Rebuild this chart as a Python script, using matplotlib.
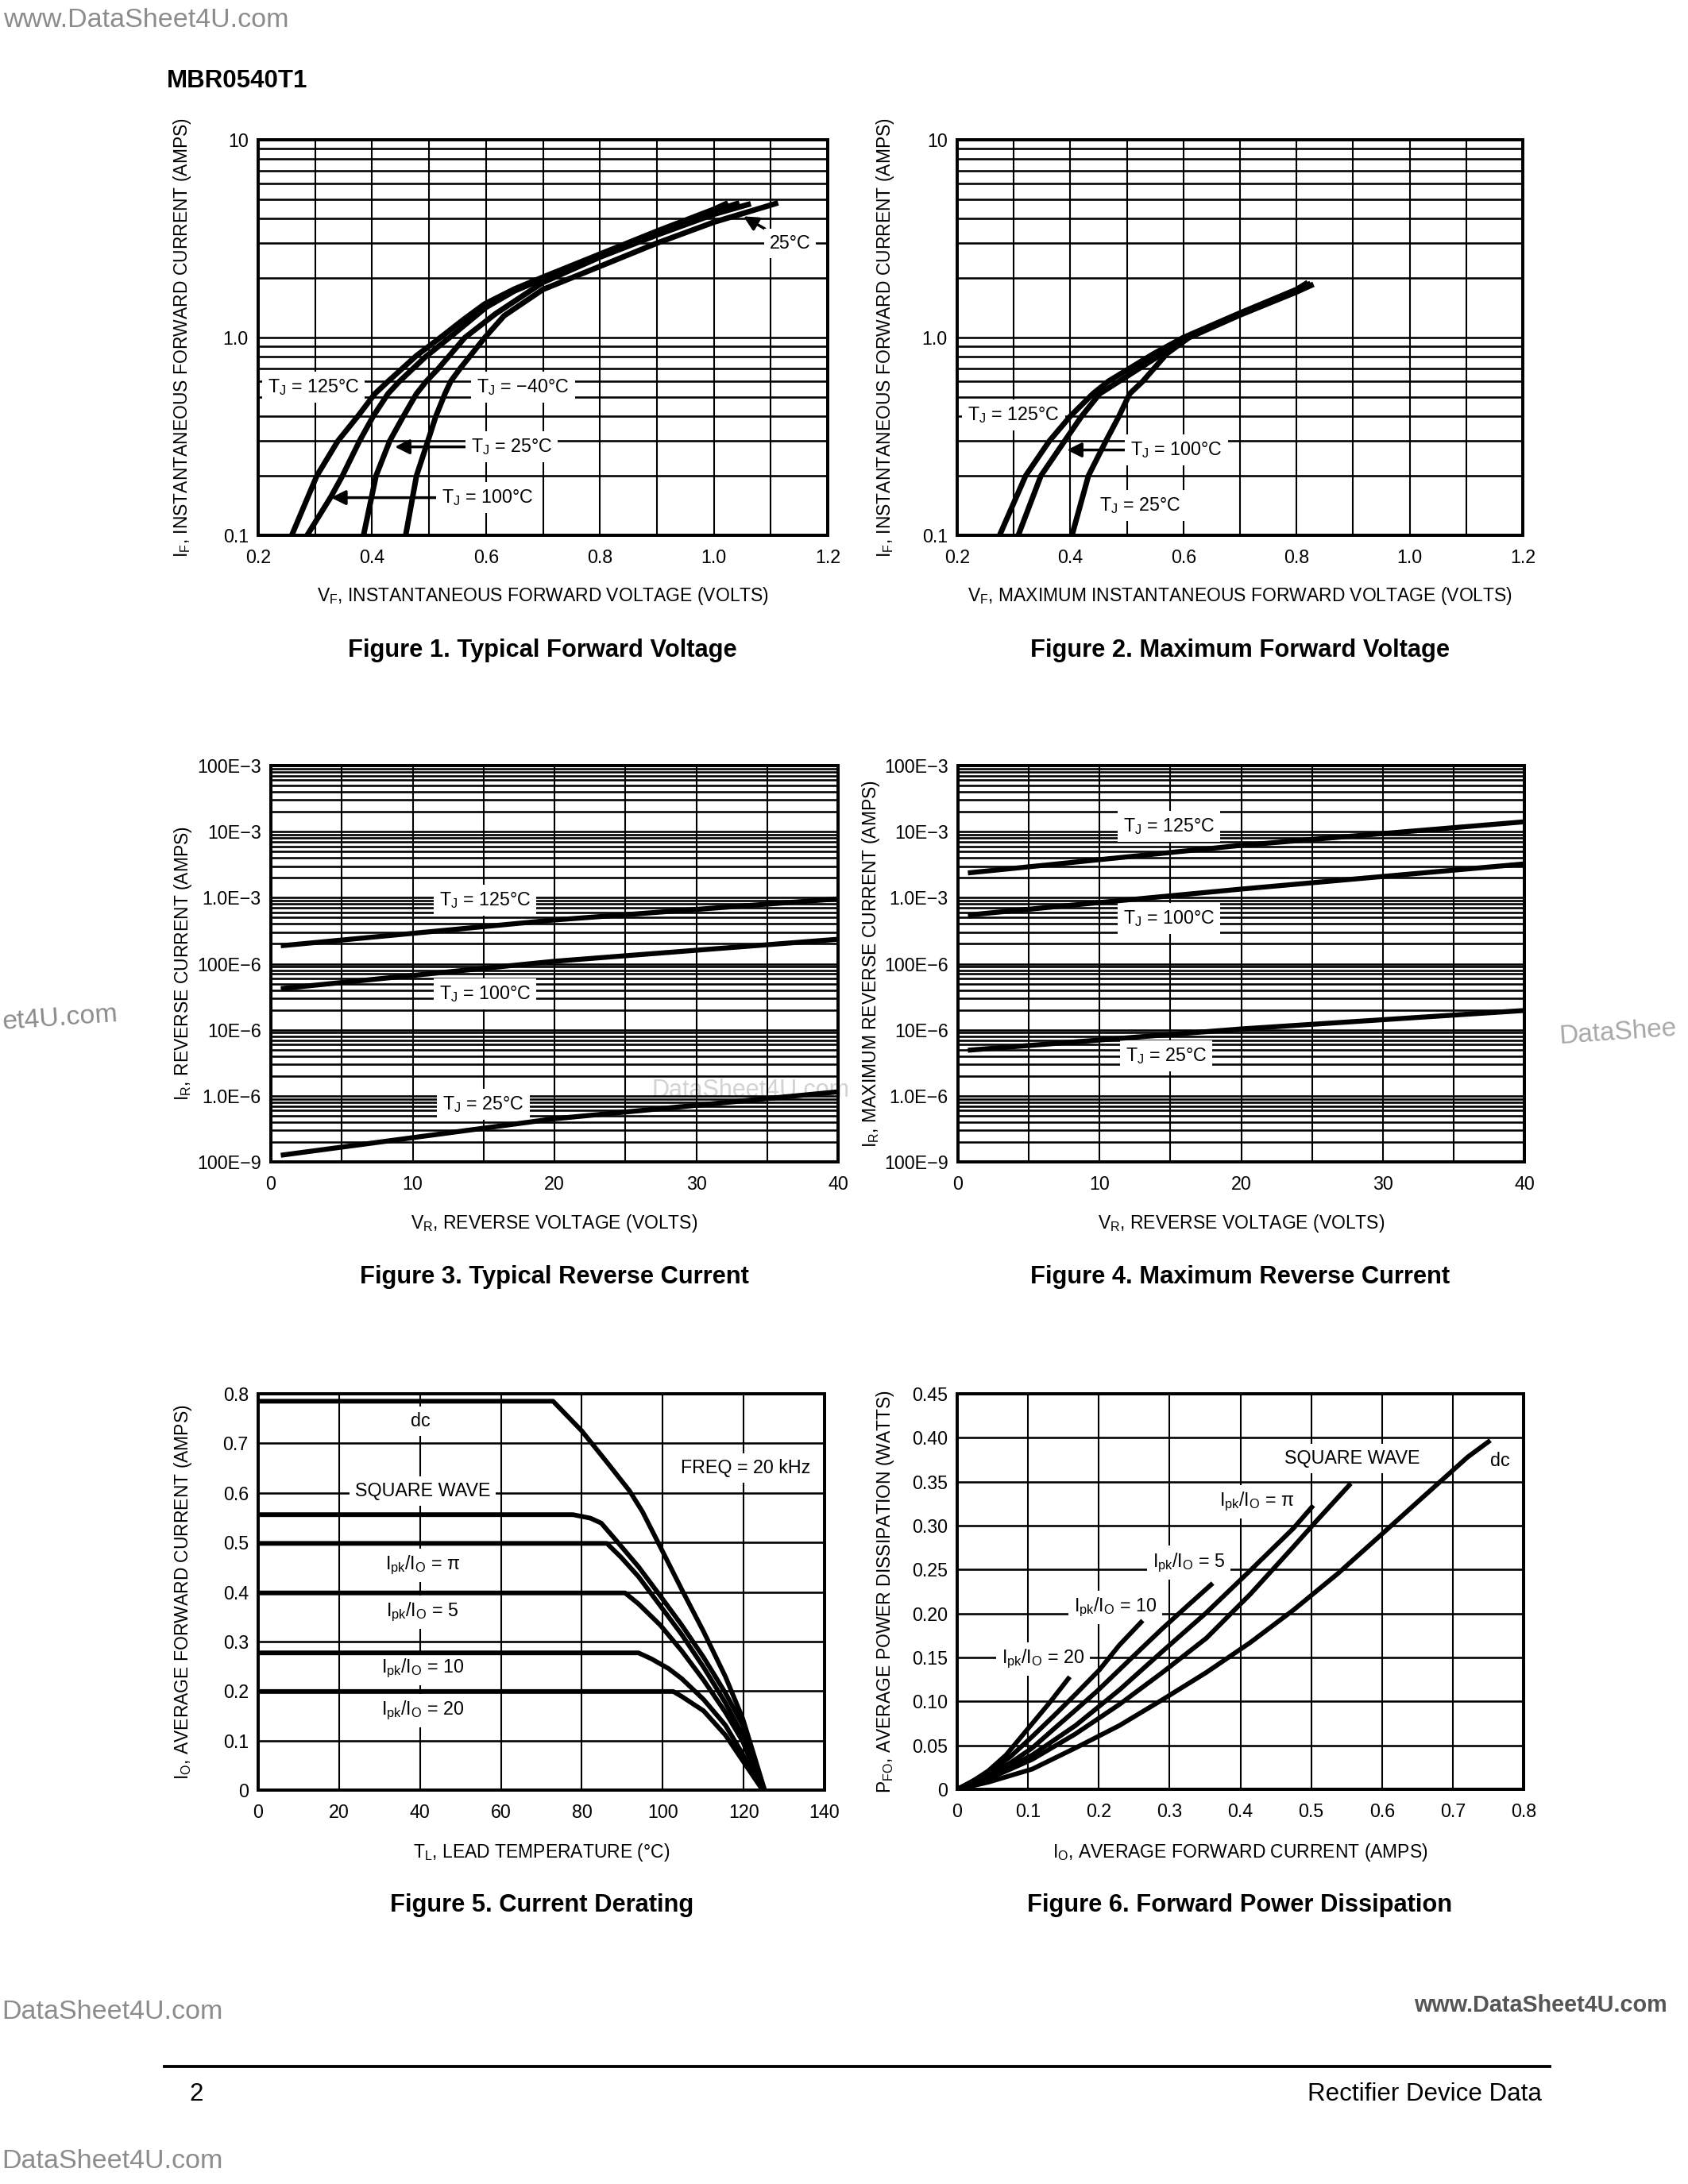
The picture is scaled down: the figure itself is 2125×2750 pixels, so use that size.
import matplotlib
matplotlib.use("Agg")
import matplotlib.pyplot as plt
import numpy as np
from matplotlib.ticker import LogLocator, NullFormatter

W, H, DPI = 2125, 2750, 250

plt.rcParams["font.family"] = ["Liberation Sans", "DejaVu Sans"]
plt.rcParams["mathtext.fontset"] = "custom"
plt.rcParams["mathtext.rm"] = "Liberation Sans"
plt.rcParams["mathtext.it"] = "Liberation Sans"
plt.rcParams["mathtext.bf"] = "Liberation Sans:bold"

# ---------------- Figure 1: typical forward voltage ----------------
f1_v_125 = [0.259, 0.303, 0.34, 0.375, 0.405, 0.428, 0.478, 0.52, 0.56, 0.598, 0.65, 0.70, 0.80, 0.90, 1.0, 1.025]
f1_i_125 = [0.1, 0.2, 0.3, 0.4, 0.52, 0.6, 0.81, 1.0, 1.23, 1.48, 1.76, 2.02, 2.64, 3.45, 4.45, 4.8]
f1_v_100 = [0.286, 0.328, 0.348, 0.378, 0.402, 0.428, 0.448, 0.494, 0.536, 0.60, 0.65, 0.70, 0.80, 0.90, 1.0, 1.045]
f1_i_100 = [0.1, 0.157, 0.2, 0.3, 0.4, 0.52, 0.6, 0.8, 1.0, 1.42, 1.72, 1.98, 2.6, 3.4, 4.35, 4.8]
f1_v_25 = [0.385, 0.407, 0.431, 0.455, 0.478, 0.495, 0.517, 0.563, 0.617, 0.70, 0.80, 0.90, 1.0, 1.065]
f1_i_25 = [0.1, 0.2, 0.3, 0.4, 0.52, 0.6, 0.7, 1.0, 1.32, 1.9, 2.55, 3.3, 4.2, 4.75]
f1_v_m40 = [0.459, 0.478, 0.498, 0.512, 0.528, 0.538, 0.555, 0.598, 0.632, 0.70, 0.80, 0.90, 1.0, 1.113]
f1_i_m40 = [0.1, 0.2, 0.3, 0.4, 0.52, 0.6, 0.7, 1.0, 1.29, 1.75, 2.29, 3.0, 3.83, 4.8]

# ---------------- Figure 2: maximum forward voltage ----------------
f2_v_125 = [0.275, 0.321, 0.363, 0.40, 0.44, 0.467, 0.548, 0.60, 0.70, 0.80, 0.82]
f2_v_100 = [0.308, 0.348, 0.39, 0.42, 0.452, 0.486, 0.563, 0.605, 0.70, 0.80, 0.825]
f2_v_25 = [0.403, 0.432, 0.463, 0.486, 0.505, 0.528, 0.571, 0.61, 0.70, 0.80, 0.83]
f2_i_125 = [0.1, 0.2, 0.3, 0.4, 0.52, 0.6, 0.83, 1.0, 1.33, 1.75, 1.9]
f2_i_100 = [0.1, 0.2, 0.3, 0.4, 0.52, 0.6, 0.83, 1.0, 1.31, 1.72, 1.88]
f2_i_25 = [0.1, 0.2, 0.3, 0.4, 0.52, 0.6, 0.83, 1.0, 1.30, 1.70, 1.86]

# ---------------- Figure 3 / 4: reverse current ----------------
vr_pts = [0.7, 20, 40]
f3_ir_125 = [1.87e-4, 4.6e-4, 9.6e-4]
f3_ir_100 = [4.2e-5, 1.09e-4, 2.35e-4]
f3_ir_25 = [1.26e-7, 4.5e-7, 1.15e-6]
f4_ir_125 = [2.37e-3, 6.2e-3, 1.41e-2]
f4_ir_100 = [5.46e-4, 1.35e-3, 3.25e-3]
f4_ir_25 = [4.9e-6, 1.03e-5, 1.96e-5]
ir_ticks = [1e-7, 1e-6, 1e-5, 1e-4, 1e-3, 1e-2, 1e-1]
ir_ticklabels = ["100E\u22129", "1.0E\u22126", "10E\u22126", "100E\u22126", "1.0E\u22123", "10E\u22123", "100E\u22123"]

# ---------------- Figure 5: current derating ----------------
f5_t_dc = [0, 72.9, 80, 86.4, 91.8, 95, 99.9, 104.7, 110.1, 115.5, 119.8, 125.2]
f5_i_dc = [0.785, 0.785, 0.725, 0.66, 0.604, 0.562, 0.483, 0.405, 0.32, 0.229, 0.144, 0]
f5_t_sq = [0, 77.8, 82.1, 84.8, 88.6, 94, 99.4, 104.7, 110.1, 115.5, 119.8, 124.7]
f5_i_sq = [0.556, 0.556, 0.549, 0.539, 0.503, 0.451, 0.392, 0.333, 0.268, 0.196, 0.131, 0]
f5_t_pi = [0, 86.2, 89.7, 94, 99.4, 104.7, 110.1, 115.5, 119.8, 124.7]
f5_i_pi = [0.498, 0.498, 0.47, 0.431, 0.372, 0.314, 0.248, 0.176, 0.111, 0]
f5_t_5 = [0, 90.7, 94, 99.4, 104.7, 110.1, 115.5, 119.8, 124.7]
f5_i_5 = [0.398, 0.398, 0.376, 0.333, 0.281, 0.222, 0.157, 0.098, 0]
f5_t_10 = [0, 94, 97.2, 101.5, 104.7, 110.1, 115.5, 119.8, 124.7]
f5_i_10 = [0.277, 0.277, 0.265, 0.245, 0.225, 0.183, 0.131, 0.072, 0]
f5_t_20 = [0, 102.6, 104.7, 110.1, 115.5, 119.8, 124.7]
f5_i_20 = [0.199, 0.199, 0.189, 0.16, 0.111, 0.059, 0]

# ---------------- Figure 6: forward power dissipation ----------------
f6_i_20 = [0, 0.0197, 0.044, 0.069, 0.10, 0.13, 0.159]
f6_p_20 = [0, 0.0081, 0.021, 0.039, 0.069, 0.098, 0.128]
f6_i_10 = [0, 0.044, 0.075, 0.106, 0.137, 0.167, 0.201, 0.229, 0.262]
f6_p_10 = [0, 0.019, 0.037, 0.060, 0.084, 0.108, 0.136, 0.164, 0.192]
f6_i_5 = [0, 0.044, 0.075, 0.106, 0.137, 0.167, 0.198, 0.229, 0.26, 0.29, 0.327, 0.361]
f6_p_5 = [0, 0.0166, 0.030, 0.047, 0.069, 0.090, 0.112, 0.136, 0.160, 0.183, 0.210, 0.2345]
f6_i_pi = [0, 0.044, 0.106, 0.167, 0.229, 0.29, 0.352, 0.414, 0.475, 0.503]
f6_p_pi = [0, 0.0136, 0.039, 0.0725, 0.113, 0.157, 0.201, 0.249, 0.297, 0.323]
f6_i_sq = [0, 0.044, 0.106, 0.167, 0.229, 0.29, 0.352, 0.414, 0.475, 0.506, 0.556]
f6_p_sq = [0, 0.0118, 0.034, 0.063, 0.0965, 0.133, 0.172, 0.222, 0.276, 0.304, 0.348]
f6_i_dc = [0, 0.044, 0.106, 0.167, 0.229, 0.29, 0.352, 0.414, 0.475, 0.537, 0.598, 0.66, 0.721, 0.753]
f6_p_dc = [0, 0.0081, 0.023, 0.047, 0.0725, 0.102, 0.133, 0.167, 0.204, 0.245, 0.289, 0.334, 0.378, 0.397]

TICK = 6.7
LAB = 6.6
BOX = dict(boxstyle="square,pad=0.3", facecolor="white", edgecolor="none")


def fx(x):
    return x / W


def fy(y):
    return 1 - y / H


def make_axes(fig, left, top, right, bottom):
    ax = fig.add_axes([left / W, 1 - bottom / H, (right - left) / W, (bottom - top) / H])
    ax.set_facecolor("none")
    for s in ax.spines.values():
        s.set_linewidth(1.15)
        s.set_zorder(6)
    ax.tick_params(which="both", length=0, labelsize=TICK)
    ax.tick_params(axis="x", pad=5)
    ax.tick_params(axis="y", pad=3.5)
    ax.set_axisbelow(True)
    ax.xaxis.grid(True, which="both", color="black", linewidth=0.6)
    ax.yaxis.grid(True, which="both", color="black", linewidth=0.75)
    return ax


def labels(fig, ax, xlab, ylab, xlab_y, ylab_x):
    pos = ax.get_position()
    fig.text(pos.x0 + pos.width / 2, fy(xlab_y), xlab, ha="center", va="center", fontsize=LAB)
    fig.text(fx(ylab_x), pos.y0 + pos.height / 2, ylab, ha="center", va="center",
             rotation=90, fontsize=LAB)


def tag(ax, text, xy, tip=None):
    if tip is None:
        ax.text(xy[0], xy[1], text, ha="center", va="center", fontsize=TICK, bbox=BOX, zorder=3)
    else:
        ax.annotate(text, xy=tip, xytext=xy, ha="center", va="center", fontsize=TICK,
                    bbox=BOX, zorder=3,
                    arrowprops=dict(arrowstyle="-|>", color="black", lw=1.0,
                                    mutation_scale=11, shrinkA=0, shrinkB=0))


def forward_axes(ax):
    ax.set_xlim(0.2, 1.2)
    ax.set_yscale("log")
    ax.set_ylim(0.1, 10)
    ax.set_xticks([0.2, 0.4, 0.6, 0.8, 1.0, 1.2], ["0.2", "0.4", "0.6", "0.8", "1.0", "1.2"])
    ax.set_xticks(np.arange(0.3, 1.2, 0.2), minor=True)
    ax.set_yticks([0.1, 1, 10], ["0.1", "1.0", "10"])
    ax.yaxis.set_minor_locator(LogLocator(base=10, subs=np.arange(2, 10), numticks=50))
    ax.yaxis.set_minor_formatter(NullFormatter())


def reverse_axes(ax):
    ax.set_xlim(0, 40)
    ax.set_yscale("log")
    ax.set_ylim(1e-7, 1e-1)
    ax.set_xticks([0, 10, 20, 30, 40], ["0", "10", "20", "30", "40"])
    ax.set_xticks([5, 15, 25, 35], minor=True)
    ax.set_yticks(ir_ticks, ir_ticklabels)
    ax.yaxis.set_minor_locator(LogLocator(base=10, subs=np.arange(2, 10), numticks=50))
    ax.yaxis.set_minor_formatter(NullFormatter())


TJ = r"$\mathrm{T_J}$ = "
IPK = r"$\mathrm{I_{pk}/I_O}$ = "

fig = plt.figure(figsize=(W / DPI, H / DPI), dpi=DPI)

# ---- Figure 1
ax1 = make_axes(fig, 325, 176, 1042, 674)
forward_axes(ax1)
CL = dict(color="black", lw=2.0, zorder=4, solid_capstyle="butt")
ax1.plot(f1_v_125, f1_i_125, **CL)
ax1.plot(f1_v_100, f1_i_100, **CL)
ax1.plot(f1_v_25, f1_i_25, **CL)
ax1.plot(f1_v_m40, f1_i_m40, **CL)
tag(ax1, TJ + "125°C", (0.297, 0.56))
tag(ax1, TJ + "\u221240°C", (0.665, 0.56))
tag(ax1, TJ + "25°C", (0.645, 0.28), tip=(0.44, 0.28))
tag(ax1, TJ + "100°C", (0.603, 0.155), tip=(0.328, 0.155))
tag(ax1, "25°C", (1.134, 2.99), tip=(1.052, 4.1))
labels(fig, ax1, r"$\mathrm{V_F}$, INSTANTANEOUS FORWARD VOLTAGE (VOLTS)",
       r"$\mathrm{I_F}$, INSTANTANEOUS FORWARD CURRENT (AMPS)", 750, 230)

# ---- Figure 2
ax2 = make_axes(fig, 1205, 176, 1917, 674)
forward_axes(ax2)
ax2.plot(f2_v_125, f2_i_125, **CL)
ax2.plot(f2_v_100, f2_i_100, **CL)
ax2.plot(f2_v_25, f2_i_25, **CL)
tag(ax2, TJ + "125°C", (0.30, 0.406))
tag(ax2, TJ + "100°C", (0.588, 0.27), tip=(0.394, 0.27))
tag(ax2, TJ + "25°C", (0.523, 0.141))
labels(fig, ax2, r"$\mathrm{V_F}$, MAXIMUM INSTANTANEOUS FORWARD VOLTAGE (VOLTS)",
       r"$\mathrm{I_F}$, INSTANTANEOUS FORWARD CURRENT (AMPS)", 750, 1115)

# ---- Figure 3
RL = dict(color="black", lw=1.8, zorder=4, solid_capstyle="butt")
ax3 = make_axes(fig, 341, 964, 1055, 1463)
reverse_axes(ax3)
ax3.plot(vr_pts, f3_ir_125, **RL)
ax3.plot(vr_pts, f3_ir_100, **RL)
ax3.plot(vr_pts, f3_ir_25, **RL)
tag(ax3, TJ + "125°C", (15.1, 9.1e-4))
tag(ax3, TJ + "100°C", (15.1, 3.46e-5))
tag(ax3, TJ + "25°C", (15.0, 7.5e-7))
labels(fig, ax3, r"$\mathrm{V_R}$, REVERSE VOLTAGE (VOLTS)",
       r"$\mathrm{I_R}$, REVERSE CURRENT (AMPS)", 1540, 230)

# ---- Figure 4
ax4 = make_axes(fig, 1206, 964, 1919, 1463)
reverse_axes(ax4)
ax4.plot(vr_pts, f4_ir_125, **RL)
ax4.plot(vr_pts, f4_ir_100, **RL)
ax4.plot(vr_pts, f4_ir_25, **RL)
tag(ax4, TJ + "125°C", (14.9, 1.21e-2))
tag(ax4, TJ + "100°C", (14.9, 4.9e-4))
tag(ax4, TJ + "25°C", (14.7, 4.05e-6))
labels(fig, ax4, r"$\mathrm{V_R}$, REVERSE VOLTAGE (VOLTS)",
       r"$\mathrm{I_R}$, MAXIMUM REVERSE CURRENT (AMPS)", 1540, 1096)

# ---- Figure 5
DL = dict(color="black", lw=1.7, zorder=4, solid_capstyle="butt")
ax5 = make_axes(fig, 325, 1755, 1038, 2254)
ax5.set_xlim(0, 140)
ax5.set_ylim(0, 0.8)
ax5.set_xticks(np.arange(0, 141, 20))
ax5.set_yticks(np.arange(0, 0.81, 0.1), ["0", "0.1", "0.2", "0.3", "0.4", "0.5", "0.6", "0.7", "0.8"])
ax5.plot(f5_t_dc, f5_i_dc, **DL)
ax5.plot(f5_t_sq, f5_i_sq, **DL)
ax5.plot(f5_t_pi, f5_i_pi, **DL)
ax5.plot(f5_t_5, f5_i_5, **DL)
ax5.plot(f5_t_10, f5_i_10, **DL)
ax5.plot(f5_t_20, f5_i_20, **DL)
tag(ax5, "dc", (40.1, 0.745))
tag(ax5, "SQUARE WAVE", (40.6, 0.604))
tag(ax5, "FREQ = 20 kHz", (120.4, 0.65))
tag(ax5, IPK + "π", (40.6, 0.454))
tag(ax5, IPK + "5", (40.6, 0.359))
tag(ax5, IPK + "10", (40.6, 0.245))
tag(ax5, IPK + "20", (40.6, 0.16))
labels(fig, ax5, r"$\mathrm{T_L}$, LEAD TEMPERATURE (°C)",
       r"$\mathrm{I_O}$, AVERAGE FORWARD CURRENT (AMPS)", 2332, 230)

# ---- Figure 6
ax6 = make_axes(fig, 1205, 1755, 1918, 2253)
ax6.set_xlim(0, 0.8)
ax6.set_ylim(0, 0.45)
ax6.set_xticks(np.arange(0, 0.81, 0.1), ["0", "0.1", "0.2", "0.3", "0.4", "0.5", "0.6", "0.7", "0.8"])
ax6.set_yticks(np.arange(0, 0.451, 0.05),
               ["0", "0.05", "0.10", "0.15", "0.20", "0.25", "0.30", "0.35", "0.40", "0.45"])
ax6.plot(f6_i_20, f6_p_20, **DL)
ax6.plot(f6_i_10, f6_p_10, **DL)
ax6.plot(f6_i_5, f6_p_5, **DL)
ax6.plot(f6_i_pi, f6_p_pi, **DL)
ax6.plot(f6_i_sq, f6_p_sq, **DL)
ax6.plot(f6_i_dc, f6_p_dc, **DL)
tag(ax6, "SQUARE WAVE", (0.558, 0.376))
tag(ax6, "dc", (0.767, 0.374))
tag(ax6, IPK + "π", (0.423, 0.327))
tag(ax6, IPK + "5", (0.327, 0.258))
tag(ax6, IPK + "10", (0.223, 0.207))
tag(ax6, IPK + "20", (0.121, 0.148))
labels(fig, ax6, r"$\mathrm{I_O}$, AVERAGE FORWARD CURRENT (AMPS)",
       r"$\mathrm{P_{FO}}$, AVERAGE POWER DISSIPATION (WATTS)", 2332, 1115)

# ---- captions
CAP = dict(ha="center", va="center", fontsize=8.9, fontweight="bold")
fig.text(fx(683), fy(819), "Figure 1. Typical Forward Voltage", **CAP)
fig.text(fx(1561), fy(819), "Figure 2. Maximum Forward Voltage", **CAP)
fig.text(fx(698), fy(1608), "Figure 3. Typical Reverse Current", **CAP)
fig.text(fx(1561), fy(1608), "Figure 4. Maximum Reverse Current", **CAP)
fig.text(fx(682), fy(2399), "Figure 5. Current Derating", **CAP)
fig.text(fx(1561), fy(2399), "Figure 6. Forward Power Dissipation", **CAP)

# ---- page furniture
fig.text(fx(210), fy(102), "MBR0540T1", ha="left", va="center", fontsize=9, fontweight="heavy")
fig.text(fx(238), fy(2637), "2", ha="left", va="center", fontsize=9)
fig.text(fx(1941), fy(2637), "Rectifier Device Data", ha="right", va="center", fontsize=9)
fig.add_artist(plt.Line2D([fx(207), fx(1951)], [fy(2602), fy(2602)], color="black", lw=1.1))

# watermarks
WM = dict(color="#8c8c8c", fontsize=9.8, zorder=-1)
fig.text(fx(4), fy(25), "www.DataSheet4U.com", ha="left", va="center", **WM)
fig.text(fx(2), fy(1282), "et4U.com", ha="left", va="center", rotation=4, **WM)
fig.text(fx(2112), fy(1300), "DataShee", ha="right", va="center", rotation=4,
         color="#a8a8a8", fontsize=9.6, zorder=-1)
fig.text(fx(945), fy(1373), "DataSheet4U.com", ha="center", va="center",
         color="#d2d2d2", fontsize=8.8, zorder=-1)
fig.text(fx(2), fy(2534), "DataSheet4U.com", ha="left", va="center", **WM)
fig.text(fx(2099), fy(2525), "www.DataSheet4U.com", ha="right", va="center",
         color="#555555", fontsize=8.3, fontweight="bold")
fig.text(fx(2), fy(2721), "DataSheet4U.com", ha="left", va="center", **WM)

fig.savefig("out.png", dpi=DPI)
